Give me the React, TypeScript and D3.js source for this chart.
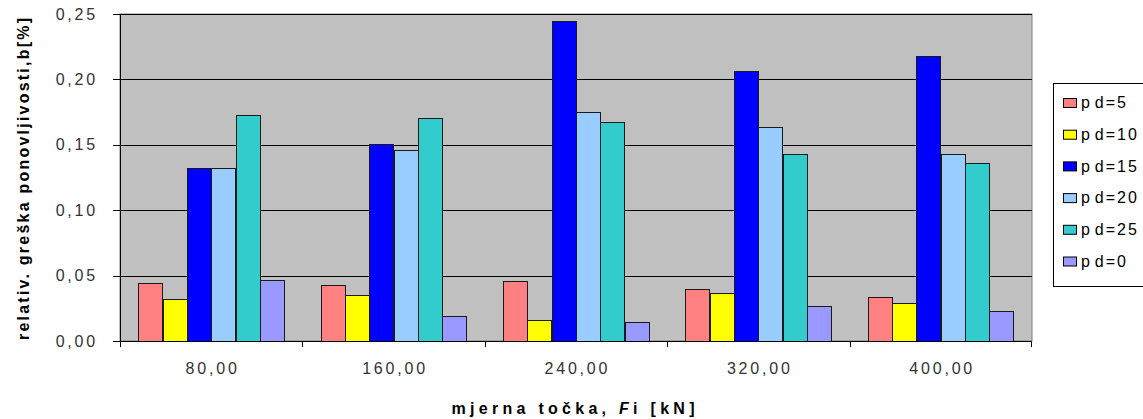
import React from "react";
import * as d3 from "d3";

const categories = ["80,00", "160,00", "240,00", "320,00", "400,00"];
const seriesNames = ["p d=5", "p d=10", "p d=15", "p d=20", "p d=25", "p d=0"];
const seriesColors = ["#FF8080", "#FFFF00", "#0000FF", "#99CCFF", "#33CCCC", "#9999FF"];
const pd5 = [0.044, 0.043, 0.046, 0.0395, 0.0334];
const pd10 = [0.032, 0.0354, 0.0162, 0.0365, 0.0288];
const pd15 = [0.132, 0.1508, 0.2444, 0.2062, 0.2179];
const pd20 = [0.132, 0.146, 0.175, 0.1638, 0.143];
const pd25 = [0.1728, 0.1705, 0.1674, 0.143, 0.1363];
const pd0 = [0.047, 0.0191, 0.0145, 0.0268, 0.0232];
const seriesValues = [pd5, pd10, pd15, pd20, pd25, pd0];
const yTicks = [0, 0.05, 0.1, 0.15, 0.2, 0.25];

const W = 1143;
const H = 419;
const L = 120, R = 1032, T = 14, B = 341;

export default function App() {
  const x0 = d3.scaleBand<string>().domain(categories).range([L, R]).paddingInner(0).paddingOuter(0);
  const x1 = d3
    .scaleBand<string>()
    .domain(seriesNames)
    .range([0, x0.bandwidth()])
    .paddingInner(0)
    .paddingOuter(0.75);
  const y = d3.scaleLinear().domain([0, 0.25]).range([B, T]);
  const fmt = (v: number) => d3.format(".2f")(v).replace(".", ",");
  const font = "'Liberation Sans', Arial, sans-serif";
  const legX = 1053, legY = 83, legRow = 31.7;

  return (
    <svg
      width={W}
      height={H}
      style={{ position: "absolute", left: 0, top: 0, background: "#fff" }}
      fontFamily={font}
    >
      <rect x={0} y={0} width={W} height={H} fill="#fff" />
      {/* plot area */}
      <rect x={L} y={T} width={R - L} height={B - T} fill="#C0C0C0" stroke="#808080" strokeWidth={1} />
      {yTicks.slice(1).map((t) => (
        <line key={t} x1={L} x2={R} y1={Math.round(y(t)) + 0.5} y2={Math.round(y(t)) + 0.5} stroke="#000" strokeWidth={1} />
      ))}
      {/* bars */}
      {categories.map((c, ci) => (
        <g key={c}>
          {seriesNames.map((s, si) => {
            const v = seriesValues[si][ci];
            const bx = (x0(c) as number) + (x1(s) as number);
            return (
              <rect
                key={s}
                x={Math.round(bx) + 0.5}
                y={Math.round(y(v)) + 0.5}
                width={Math.round(x1.bandwidth())}
                height={Math.round(B - y(v))}
                fill={seriesColors[si]}
                stroke="#1a1a1a"
                strokeWidth={1}
              />
            );
          })}
        </g>
      ))}
      {/* axes */}
      <line x1={L + 0.5} x2={L + 0.5} y1={T} y2={B} stroke="#000" />
      <line x1={L - 7} x2={R} y1={B + 0.5} y2={B + 0.5} stroke="#000" />
      {yTicks.map((t) => (
        <g key={t}>
          <line x1={L - 7} x2={L} y1={Math.round(y(t)) + 0.5} y2={Math.round(y(t)) + 0.5} stroke="#000" />
          <text
            x={98}
            y={y(t)}
            dy="0.35em"
            textAnchor="end"
            fontSize={16}
            letterSpacing={2.8}
            fill="#333"
          >
            {fmt(t)}
          </text>
        </g>
      ))}
      {categories.map((c) => (
        <line
          key={"t" + c}
          x1={Math.round(x0(c) as number) + 0.5}
          x2={Math.round(x0(c) as number) + 0.5}
          y1={B}
          y2={B + 6}
          stroke="#000"
        />
      ))}
      <line x1={R - 0.5} x2={R - 0.5} y1={B} y2={B + 6} stroke="#000" />
      {categories.map((c) => (
        <text
          key={"l" + c}
          x={(x0(c) as number) + x0.bandwidth() / 2 + 1.4}
          y={368}
          dy="0.35em"
          textAnchor="middle"
          fontSize={16}
          letterSpacing={2.8}
          fill="#333"
        >
          {c}
        </text>
      ))}
      {/* axis titles */}
      <text
        transform={`translate(29, 179) rotate(-90)`}
        textAnchor="middle"
        fontSize={16}
        fontWeight="bold"
        fill="#000"
        textLength={322}
        lengthAdjust="spacing"
      >
        relativ. greška ponovljivosti,b[%]
      </text>
      <text
        x={573}
        y={414}
        textAnchor="middle"
        fontSize={16}
        fontWeight="bold"
        fill="#000"
        textLength={243}
        lengthAdjust="spacing"
      >
        mjerna točka, <tspan fontStyle="italic">F</tspan>i [kN]
      </text>
      {/* legend */}
      <rect x={legX + 0.5} y={legY + 0.5} width={120} height={203} fill="#fff" stroke="#000" />
      {seriesNames.map((s, i) => (
        <g key={"lg" + s}>
          <rect
            x={1063.5}
            y={legY + 15 + i * legRow + 0.5}
            width={13}
            height={9}
            fill={seriesColors[i]}
            stroke="#000"
          />
          <text
            x={1081}
            y={legY + 19.5 + i * legRow}
            dy="0.35em"
            fontSize={16}
            letterSpacing={2}
            wordSpacing={-3.5}
            fill="#000"
          >
            {s}
          </text>
        </g>
      ))}
    </svg>
  );
}
